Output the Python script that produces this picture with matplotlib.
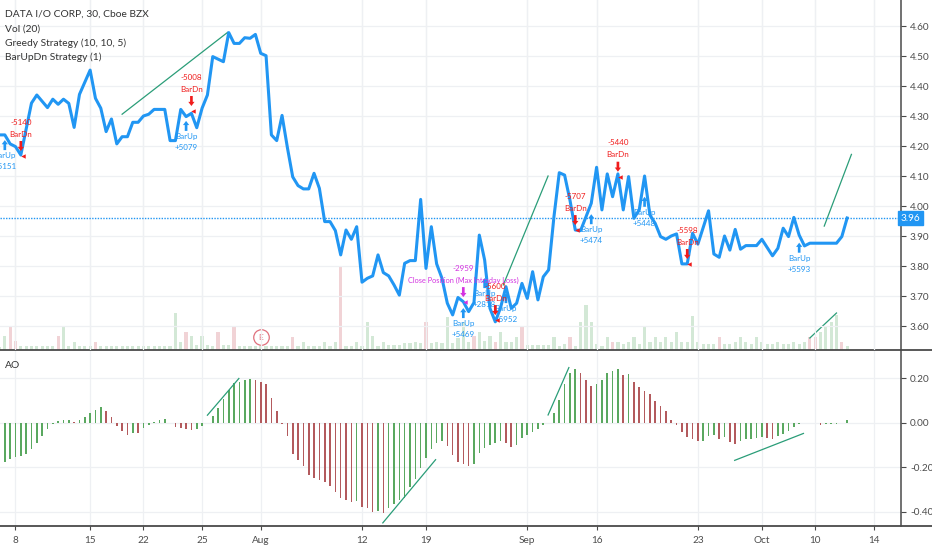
import matplotlib
matplotlib.use("Agg")
import matplotlib.pyplot as plt
from matplotlib.ticker import FixedLocator, FuncFormatter
from matplotlib.lines import Line2D

plt.rcParams['font.family'] = ['Lato', 'DejaVu Sans']

# ---------------- data ----------------
title_lines = ["DATA I/O CORP, 30, Cboe BZX", "Vol (20)", "Greedy Strategy (10, 10, 5)", "BarUpDn Strategy (1)"]

tick_pos = [3, 17, 27, 38, 49, 68, 80, 99, 112, 131, 143, 153, 164]
tick_labels = ['8', '15', '22', '25', 'Aug', '12', '19', 'Sep', '16', '23', 'Oct', '10', '14']

price_idx = [0, 1, 2, 3, 4, 6, 7, 9, 10, 11, 12, 13, 14, 15, 17, 18, 19, 20, 21, 22, 23, 24, 25, 26,
             27, 28, 29, 31, 32, 33, 34, 35, 36, 37, 38, 39, 40, 42, 43, 44, 45, 46, 47, 48, 49, 50,
             51, 52, 53, 54, 55, 56, 57, 58, 59, 60, 61, 62, 63, 64, 65, 66, 67, 68, 69, 70, 71, 72,
             73, 74, 75, 76, 77, 78, 79, 80, 81, 82, 83, 84, 85, 86, 87, 88, 89, 90, 91, 92, 93, 94,
             95, 96, 97, 98, 99, 100, 101, 102, 103, 104, 105, 106, 107, 108, 109, 110, 111, 112,
             113, 114, 115, 116, 117, 118, 119, 120, 121, 122, 123, 124, 125, 126, 127, 128, 129,
             130, 131, 133, 134, 135, 136, 137, 138, 139, 140, 142, 143, 145, 146, 147, 148, 149,
             150, 151, 152, 157, 158, 159]
price_close = [4.237, 4.237, 4.207, 4.198, 4.170, 4.343, 4.370, 4.328, 4.356, 4.339, 4.356, 4.342,
               4.262, 4.372, 4.453, 4.359, 4.326, 4.248, 4.290, 4.207, 4.231, 4.231, 4.279, 4.279,
               4.300, 4.306, 4.322, 4.322, 4.218, 4.218, 4.322, 4.298, 4.309, 4.261, 4.326, 4.370,
               4.498, 4.481, 4.578, 4.542, 4.542, 4.561, 4.559, 4.572, 4.509, 4.501, 4.237, 4.218,
               4.302, 4.195, 4.097, 4.068, 4.057, 4.057, 4.109, 4.059, 3.948, 3.948, 3.918, 3.837,
               3.920, 3.889, 3.931, 3.746, 3.759, 3.767, 3.837, 3.778, 3.767, 3.737, 3.703, 3.809,
               3.818, 3.818, 4.022, 3.792, 3.931, 3.807, 3.759, 3.676, 3.637, 3.695, 3.681, 3.648,
               3.678, 3.903, 3.820, 3.659, 3.614, 3.662, 3.731, 3.659, 3.676, 3.742, 3.692, 3.781,
               3.687, 3.764, 3.787, 3.964, 4.111, 4.103, 4.020, 3.920, 3.918, 3.964, 4.009, 4.129,
               3.987, 4.107, 4.031, 4.107, 3.987, 4.098, 3.959, 3.987, 4.100, 3.970, 3.942, 3.898,
               3.889, 3.900, 3.907, 3.807, 3.807, 3.909, 3.873, 3.984, 3.840, 3.829, 3.900, 3.853,
               3.922, 3.856, 3.868, 3.868, 3.889, 3.834, 3.859, 3.926, 3.898, 3.962, 3.903, 3.867,
               3.876, 3.876, 3.898, 3.960]
last_price = 3.96

ao_values = [-0.179, -0.176, -0.164, -0.153, -0.150, -0.141, -0.117, -0.089, -0.058, -0.027,
             -0.005, 0.009, 0.012, 0.013, 0.006, 0.012, 0.026, 0.047, 0.059, 0.070,
             0.052, 0.027, -0.012, -0.036, -0.053, -0.044, -0.045, -0.024, -0.009, 0.006,
             0.014, 0.016, -0.002, -0.017, -0.023, -0.029, -0.032, -0.029, -0.012, 0.002,
             0.032, 0.067, 0.108, 0.150, 0.180, 0.185, 0.191, 0.198, 0.191, 0.183,
             0.173, 0.112, 0.052, -0.003, -0.059, -0.138, -0.165, -0.195, -0.236, -0.248,
             -0.256, -0.267, -0.282, -0.310, -0.335, -0.347, -0.356, -0.352, -0.376, -0.383,
             -0.398, -0.396, -0.403, -0.380, -0.365, -0.345, -0.335, -0.289, -0.252, -0.203,
             -0.156, -0.115, -0.092, -0.082, -0.105, -0.145, -0.176, -0.186, -0.195, -0.183,
             -0.135, -0.111, -0.100, -0.088, -0.080, -0.089, -0.108, -0.100, -0.067, -0.055,
             -0.039, -0.026, -0.009, -0.001, 0.047, 0.105, 0.173, 0.223, 0.244, 0.226,
             0.192, 0.165, 0.173, 0.192, 0.226, 0.233, 0.244, 0.214, 0.221, 0.183,
             0.162, 0.142, 0.132, 0.097, 0.077, 0.055, 0.014, -0.009, -0.039, -0.065,
             -0.074, -0.082, -0.080, -0.058, -0.055, -0.070, -0.062, -0.085, -0.095, -0.082,
             -0.074, -0.070, -0.068, -0.062, -0.067, -0.070, -0.059, -0.050, -0.035, -0.020,
             -0.005, -0.002, -0.001, -0.001, -0.008, -0.006, -0.005, -0.004, -0.002, 0.014]

volume_k = [3, 14, 23, 9, 4, 4, 4, 4, 4, 4, 4, 14, 23, 4, 8, 4, 4, 4, 8, 4,
            4, 4, 4, 4, 4, 4, 4, 4, 4, 4, 4, 4, 4, 37, 8, 18, 14, 5, 14, 5,
            4, 18, 5, 5, 23, 4, 4, 4, 4, 4, 4, 4, 4, 4, 4, 13, 4, 8, 4, 4,
            4, 8, 4, 8, 84, 4, 4, 8, 4, 28, 14, 4, 8, 5, 5, 5, 7, 7, 8, 7,
            28, 7, 8, 7, 33, 7, 12, 28, 8, 14, 18, 9, 14, 8, 18, 8, 8, 13, 23, 5,
            5, 5, 5, 5, 13, 4, 6, 13, 4, 28, 45, 28, 6, 4, 13, 8, 8, 6, 8, 13,
            6, 23, 8, 13, 8, 13, 8, 18, 8, 8, 34, 8, 6, 6, 6, 13, 6, 6, 8, 13,
            8, 6, 13, 8, 6, 6, 8, 6, 6, 8, 6, 8, 13, 13, 18, 23, 28, 35, 8, 4]
volume_down = [2, 3, 11, 18, 35, 41, 44, 55, 64, 80, 89, 93, 98, 107, 115, 135, 152, 153, 158]

entry_idx = [1, 35, 87, 91, 95, 111, 121, 150]
entry_price = [4.203, 4.267, 3.643, 3.743, 3.693, 3.956, 4.014, 3.861]
entry_pnl = ["+5151", "+5079", "+5469", "+2818", "+5952", "+5474", "+5448", "+5593"]

exit_idx = [4, 36, 93, 108, 116, 129]
exit_price = [4.200, 4.350, 3.653, 3.953, 4.131, 3.840]
exit_pnl = ["-5140", "-5008", "-5600", "-5707", "-5440", "-5598"]

close_idx = [87]
close_price = [3.713]
close_pnl = ["-2959"]
close_text = "Close Position (Max Intraday Loss)"

earnings_idx = 49

# drawn trend lines (bar index, value)
price_trend = [((23.0, 4.306), (42.8, 4.579)), ((94.5, 3.737), (102.9, 4.100)), ((154.7, 3.933), (159.8, 4.172))]
volume_trend = [((152.0, 12), (157.0, 37))]
ao_trend = [((39.0, 0.035), (44.9, 0.200)), ((71.9, -0.449), (81.8, -0.165)),
            ((102.9, 0.036), (106.8, 0.249)), ((137.9, -0.168), (150.8, -0.047))]

price_ticks = [3.6, 3.7, 3.8, 3.9, 4.0, 4.1, 4.2, 4.3, 4.4, 4.5, 4.6]
ao_ticks = [-0.4, -0.2, 0.0, 0.2]

# ---------------- style ----------------
W, H = 932, 550
BLUE = '#2196F3'
RED = '#f01c1c'
MAG = '#d332e0'
TREND = '#2a9d78'
GRID = '#eef0f3'
AXC = '#4a4a4a'
TXT = '#4d4d4d'
AO_UP = '#5aa860'
AO_DN = '#b35a5d'
VOL_UP = '#d3e8d6'
VOL_DN = '#f1d3d6'

fig = plt.figure(figsize=(W / 100, H / 100), dpi=100)
right = 901 / W
main_bot, main_top = 350, 0
ao_bot = 526
ax = fig.add_axes([0, 1 - main_bot / H, right, (main_bot - main_top) / H])
axv = fig.add_axes([0, 1 - main_bot / H, right, (main_bot - main_top) / H], sharex=ax)
axo = fig.add_axes([0, 1 - ao_bot / H, right, (ao_bot - main_bot) / H], sharex=ax)
ax.set_zorder(2)
ax.patch.set_visible(False)
axv.set_zorder(1)

xlim = (0.094, 169.1)
ax.set_xlim(*xlim)
ax.set_ylim(3.52, 4.6867)
axv.set_ylim(0, 350)
axo.set_ylim(-0.463, 0.328)

px_price = (4.6867 - 3.52) / 350.0
px_x = (xlim[1] - xlim[0]) / 901.0

# volume
vol_x = list(range(len(volume_k)))
vol_cols = [VOL_DN if i in volume_down else VOL_UP for i in vol_x]
axv.bar(vol_x, volume_k, width=0.6, color=vol_cols, linewidth=0)
for (a, b) in volume_trend:
    axv.plot([a[0], b[0]], [a[1], b[1]], color=TREND, lw=0.9)
axv.scatter([earnings_idx], [13], s=125, facecolors='white', edgecolors='#e0707c', linewidths=0.9, zorder=5)
axv.text(earnings_idx, 13, 'E', color='#e0707c', ha='center', va='center', fontsize=6, zorder=6)
axv.axis('off')

# grids
for a, yt in ((ax, price_ticks), (axo, ao_ticks)):
    for t in yt:
        a.axhline(t, color=GRID, lw=0.9, zorder=0)
    for t in tick_pos:
        a.axvline(t, color=GRID, lw=0.9, zorder=0)
for t in tick_pos:
    axv.axvline(t, color=GRID, lw=0.9, zorder=0)

# price
ax.plot(price_idx, price_close, color=BLUE, lw=2.2, solid_joinstyle='round', zorder=4)
ax.axhline(last_price, color=BLUE, lw=1.0, ls=(0, (1, 1)), zorder=3)
for (a, b) in price_trend:
    ax.plot([a[0], b[0]], [a[1], b[1]], color=TREND, lw=0.9, zorder=3)

ap = dict(arrowstyle='simple,head_length=0.5,head_width=0.75,tail_width=0.32', shrinkA=0, shrinkB=0,
          lw=0, mutation_scale=6)
for i, p, lab in zip(entry_idx, entry_price, entry_pnl):
    ax.annotate('', xy=(i, p + 5 * px_price), xytext=(i, p - 5 * px_price),
                arrowprops=dict(ap, color=BLUE), zorder=5)
    ax.annotate('BarUp', xy=(i, p), xytext=(0, -10.5 * 0.72), textcoords='offset points',
                ha='center', va='center', fontsize=5.8, color=BLUE, zorder=5)
    ax.annotate(lab, xy=(i, p), xytext=(0, -21.5 * 0.72), textcoords='offset points',
                ha='center', va='center', fontsize=5.8, color=BLUE, zorder=5)
for i, p, lab in zip(exit_idx, exit_price, exit_pnl):
    ax.annotate('', xy=(i, p - 5 * px_price), xytext=(i, p + 5 * px_price),
                arrowprops=dict(ap, color=RED), zorder=5)
    ax.plot([i + 2 * px_x], [p - 10 * px_price], marker='<', ms=3.2, color=RED, mew=0, zorder=5)
    ax.annotate('BarDn', xy=(i, p), xytext=(0, 12 * 0.72), textcoords='offset points',
                ha='center', va='center', fontsize=5.8, color=RED, zorder=5)
    ax.annotate(lab, xy=(i, p), xytext=(0, 24 * 0.72), textcoords='offset points',
                ha='center', va='center', fontsize=5.8, color=RED, zorder=5)
for i, p, lab in zip(close_idx, close_price, close_pnl):
    ax.annotate('', xy=(i, p - 5 * px_price), xytext=(i, p + 5 * px_price),
                arrowprops=dict(ap, color=MAG), zorder=5)
    ax.plot([i + 2 * px_x], [p - 10 * px_price], marker='<', ms=3.2, color=MAG, mew=0, zorder=5)
    ax.annotate(close_text, xy=(i, p), xytext=(0, 12 * 0.72), textcoords='offset points',
                ha='center', va='center', fontsize=5.3, color=MAG, zorder=5)
    ax.annotate(lab, xy=(i, p), xytext=(0, 24 * 0.72), textcoords='offset points',
                ha='center', va='center', fontsize=5.8, color=MAG, zorder=5)

# AO
ao_x = list(range(len(ao_values)))
ao_cols = [AO_DN] + [AO_UP if ao_values[k] >= ao_values[k - 1] else AO_DN for k in range(1, len(ao_values))]
axo.bar(ao_x, ao_values, width=0.3, color=ao_cols, linewidth=0, zorder=3)
for (a, b) in ao_trend:
    axo.plot([a[0], b[0]], [a[1], b[1]], color=TREND, lw=0.9, zorder=4)

# axes styling
for a in (ax, axo):
    for s in ('top', 'left', 'bottom'):
        a.spines[s].set_visible(False)
    a.spines['right'].set_color(AXC)
    a.spines['right'].set_linewidth(1.1)
    a.yaxis.tick_right()
    a.tick_params(axis='y', colors=AXC, labelcolor=TXT, labelsize=7.2, length=3.5, width=0.8, pad=3)
ax.yaxis.set_major_locator(FixedLocator(price_ticks))
ax.yaxis.set_major_formatter(FuncFormatter(lambda v, _: f"{v:.2f}"))
axo.yaxis.set_major_locator(FixedLocator(ao_ticks))
axo.yaxis.set_major_formatter(FuncFormatter(lambda v, _: f"{v:.2f}".replace('\u2212', '-')))
ax.tick_params(axis='x', length=0)
plt.setp(ax.get_xticklabels(), visible=False)
plt.setp(axv.get_xticklabels(), visible=False)
axo.xaxis.set_major_locator(FixedLocator(tick_pos))
axo.set_xticklabels(tick_labels)
axo.tick_params(axis='x', colors=AXC, labelcolor=TXT, labelsize=7.2, length=3, width=0.8, pad=4, direction='out')
ax.set_xlim(*xlim)

# last price label
ax.text(1.0, last_price, f"{last_price:.2f}", transform=ax.get_yaxis_transform(), ha='left', va='center',
        fontsize=7.2, color='white', zorder=10, clip_on=False,
        bbox=dict(boxstyle='square,pad=0.28', fc=BLUE, ec=BLUE))

# panel dividers across full width
fig.add_artist(Line2D([0, 1], [1 - 350 / H, 1 - 350 / H], color=AXC, lw=1.3))
fig.add_artist(Line2D([0, 1], [1 - ao_bot / H, 1 - ao_bot / H], color=AXC, lw=1.3))

# legend texts
for k, t in enumerate(title_lines):
    fig.text(5 / W, 1 - (14.5 + 14.3 * k) / H, t, ha='left', va='center', fontsize=7.4, color='#333333')
fig.text(5 / W, 1 - 365 / H, 'AO', ha='left', va='center', fontsize=7.4, color='#333333')

fig.savefig('out.png', dpi=100)
